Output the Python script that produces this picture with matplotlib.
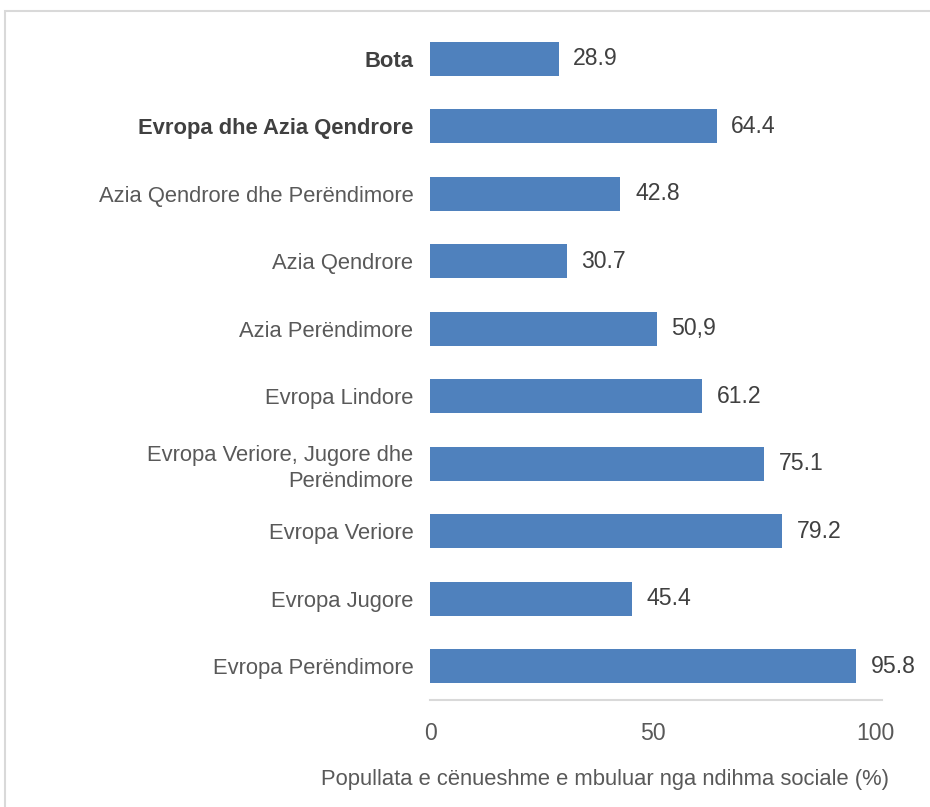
import matplotlib.pyplot as plt
from matplotlib.patches import Rectangle

rajonet = ['Bota', 'Evropa dhe Azia Qendrore', 'Azia Qendrore dhe Perëndimore',
           'Azia Qendrore', 'Azia Perëndimore', 'Evropa Lindore',
           'Evropa Veriore, Jugore dhe\nPerëndimore', 'Evropa Veriore',
           'Evropa Jugore', 'Evropa Perëndimore']
vlerat = [28.9, 64.4, 42.8, 30.7, 50.9, 61.2, 75.1, 79.2, 45.4, 95.8]
etiketat = ['28.9', '64.4', '42.8', '30.7', '50,9', '61.2', '75.1', '79.2', '45.4', '95.8']
te_theksuara = ['Bota', 'Evropa dhe Azia Qendrore']

plt.rcParams['font.family'] = ['Liberation Sans', 'DejaVu Sans']
fs = 15.8

fig = plt.figure(figsize=(9.3, 8.07), dpi=100)
ax = fig.add_axes([0.4624, 0.1326, 0.4785, 0.8364])

# korniza e lehte rreth grafikut
fig.patches.append(Rectangle((5 / 930, -0.01), 1.0, (807 - 11) / 807 + 0.01,
                             transform=fig.transFigure, fill=False,
                             edgecolor='#d9d9d9', linewidth=1.5))

y = list(range(len(rajonet)))
ax.barh(y, vlerat, height=0.5, color='#4f81bd')

for yi, v, t in zip(y, vlerat, etiketat):
    ax.text(v + 3.3, yi, t, va='center', ha='left', fontsize=fs + 0.8, color='#404040')

ax.set_yticks(y)
ax.set_yticklabels(rajonet, fontsize=fs, color='#595959', linespacing=1.3)
for lbl in ax.get_yticklabels():
    if lbl.get_text() in te_theksuara:
        lbl.set_fontweight('bold')
        lbl.set_color('#404040')

ax.set_ylim(len(rajonet) - 0.5, -0.5)
ax.set_xlim(0, 100)
ax.set_xticks([0, 50, 100])
ax.tick_params(axis='x', labelsize=fs + 0.8, labelcolor='#595959', length=0, pad=16)
ax.tick_params(axis='y', length=0, pad=12)

for s in ['top', 'right', 'left']:
    ax.spines[s].set_visible(False)
ax.spines['bottom'].set_color('#d9d9d9')
ax.spines['bottom'].set_linewidth(1.5)
ax.spines['bottom'].set_bounds(0, 101.5)

ax.set_xlabel('Popullata e cënueshme e mbuluar nga ndihma sociale (%)',
              fontsize=fs, color='#595959')
# qendra e etiketes pak majtas qendres se boshtit
ax.xaxis.set_label_coords((605 - 430) / 445, -(780 - 700) / 675, transform=ax.transAxes)
ax.xaxis.label.set_va('center')

plt.savefig('out.png', dpi=100)
